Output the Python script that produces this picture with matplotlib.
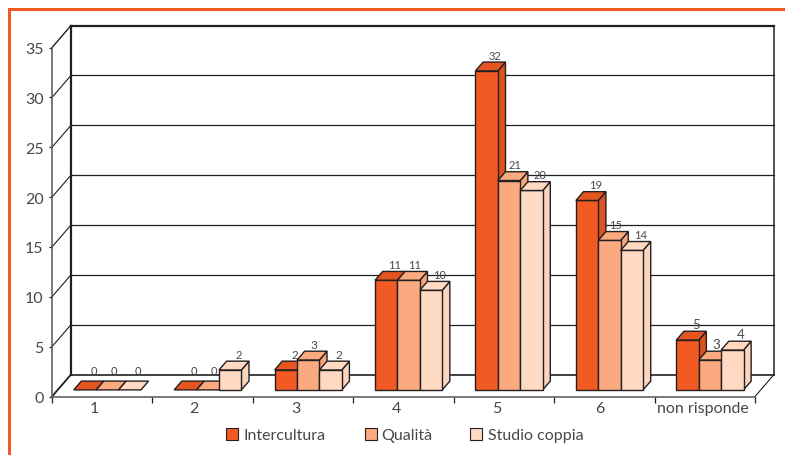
import matplotlib
matplotlib.use('Agg')
import matplotlib.pyplot as plt
from matplotlib.patches import Polygon, Rectangle

plt.rcParams['font.family'] = ['Lato', 'DejaVu Sans']

categories = ['1', '2', '3', '4', '5', '6', 'non risponde']
seriesNames = ['Intercultura', 'Qualità', 'Studio coppia']
intercultura = [0, 0, 2, 11, 32, 19, 5]
qualita = [0, 0, 3, 11, 21, 15, 3]
studioCoppia = [0, 2, 2, 10, 20, 14, 4]
yTicks = [0, 5, 10, 15, 20, 25, 30, 35]

ORANGE = '#F15A22'
colors = [ORANGE, '#FBAA80', '#FFD9C2']
topColors = ['#E5551F', '#FBAA80', '#FFD9C2']
sideColors = ['#E0521D', '#F5A57B', '#FBD5BE']
INK = '#231F20'
TEXT = '#48484A'

# pixel layout of the front plane
WIDTH, HEIGHT = 785, 456
X0, CATW = 52, 100.43
Y0, UNIT = 397.5, 9.97
DEPTHX = 19 / CATW
DEPTHY = 22 / UNIT

BARW = 0.223
BARSTART = 0.16
BARFRONT, BARBACK = 0.30, 0.70


# Oblique projection of a point at a given depth onto the front plane
def project(x, y, depth):
	return (x + depth * DEPTHX, y + depth * DEPTHY)


def draw_box(ax, x, value, face, top, side, zorder):
	edge = dict(edgecolor=INK, linewidth=1.0, joinstyle='miter', zorder=zorder)
	if value > 0:
		ax.add_patch(Polygon([project(x + BARW, 0, BARFRONT), project(x + BARW, 0, BARBACK),
			project(x + BARW, value, BARBACK), project(x + BARW, value, BARFRONT)], facecolor=side, **edge))
		ax.add_patch(Polygon([project(x, 0, BARFRONT), project(x + BARW, 0, BARFRONT),
			project(x + BARW, value, BARFRONT), project(x, value, BARFRONT)], facecolor=face, **edge))
	ax.add_patch(Polygon([project(x, value, BARFRONT), project(x + BARW, value, BARFRONT),
		project(x + BARW, value, BARBACK), project(x, value, BARBACK)], facecolor=top, **edge))


fig = plt.figure(figsize=(WIDTH / 100, HEIGHT / 100), dpi=100)
ax = fig.add_axes([0, 0, 1, 1])
ax.set_xlim(-X0 / CATW, (WIDTH - X0) / CATW)
ax.set_ylim((Y0 - HEIGHT) / UNIT, Y0 / UNIT)

# back wall, side wall and floor
for v in yTicks[1:-1]:
	ax.plot([0, DEPTHX], [v, v + DEPTHY], color=INK, lw=0.8, zorder=1)
	ax.plot([DEPTHX, 7 + DEPTHX], [v + DEPTHY, v + DEPTHY], color=INK, lw=0.9, zorder=1)
ax.plot([0, DEPTHX], [35, 35 + DEPTHY], color=INK, lw=1.0, zorder=1)
ax.plot([DEPTHX, 7 + DEPTHX], [35 + DEPTHY, 35 + DEPTHY], color=INK, lw=1.6, zorder=1)
ax.plot([DEPTHX, DEPTHX], [DEPTHY, 35 + DEPTHY], color=INK, lw=1.6, zorder=1)
ax.plot([7 + DEPTHX, 7 + DEPTHX], [DEPTHY, 35 + DEPTHY], color=INK, lw=1.1, zorder=1)
ax.plot([0, DEPTHX], [0, DEPTHY], color=INK, lw=1.3, zorder=1)
ax.plot([DEPTHX, 7 + DEPTHX], [DEPTHY, DEPTHY], color=INK, lw=1.2, zorder=1)
ax.plot([7, 7 + DEPTHX], [0, DEPTHY], color=INK, lw=0.8, zorder=1)

# bars, left to right so that each one hides the side of the previous
series = [intercultura, qualita, studioCoppia]
labelSizes = [8, 8, 8.5, 8, 8, 8, 9.5]
labelShift = [1, -1.5, 1]
z = 2
for c in range(len(categories)):
	for s, values in enumerate(series):
		x = c + BARSTART + s * BARW
		draw_box(ax, x, values[c], colors[s], topColors[s], sideColors[s], z)
		z += 1
		lx, ly = project(x + BARW / 2, values[c], BARBACK)
		# flat bars carry their label a little higher
		lift = 11 if values[c] == 0 else 7
		ax.text(lx + labelShift[s] / CATW, ly + lift / UNIT, str(values[c]), ha='center', va='center',
			fontsize=labelSizes[c], color=TEXT, zorder=100)

# axes lines and tick labels
for name in ['top', 'right']:
	ax.spines[name].set_visible(False)
ax.spines['left'].set_position(('data', 0))
ax.spines['left'].set_bounds(0, 35)
ax.spines['bottom'].set_position(('data', 0))
ax.spines['bottom'].set_bounds(0, 7)
ax.spines['left'].set_color('#55565A')
ax.spines['bottom'].set_color('#55565A')
ax.spines['left'].set_linewidth(1.1)
ax.spines['bottom'].set_linewidth(1.1)

ax.set_yticks(yTicks)
ax.tick_params(axis='y', length=2, width=0.9, color=INK, pad=4, labelsize=11.5, labelcolor=TEXT)
ax.set_xticks(range(8))
ax.tick_params(axis='x', which='major', length=4.5, width=0.9, color=INK, labelbottom=False)
ax.set_xticks([0.418, 1.414, 2.43, 3.43, 4.43, 5.45, 6.48], minor=True)
ax.set_xticklabels(categories, minor=True)
ax.tick_params(axis='x', which='minor', length=0, pad=3, labelsize=11.5, labelcolor=TEXT)

# legend row
legendBoxes = [226, 365, 470]
legendTexts = [243, 381, 488]
for i, name in enumerate(seriesNames):
	bx = (legendBoxes[i] - X0) / CATW
	tx = (legendTexts[i] - X0) / CATW
	ax.add_patch(Rectangle((bx, (Y0 - 441) / UNIT), 12 / CATW, 12 / UNIT, facecolor=colors[i],
		edgecolor=INK, linewidth=0.8))
	ax.text(tx, (Y0 - 436.5) / UNIT, name, ha='left', va='center', fontsize=11.5, color=TEXT)

# orange frame along the left and top edges
ax.plot([8.5 / WIDTH, 8.5 / WIDTH, 1], [0, 1 - 10 / HEIGHT, 1 - 10 / HEIGHT],
	transform=ax.transAxes, color=ORANGE, lw=2.2, solid_joinstyle='miter', clip_on=False)

fig.savefig('out.png', dpi=100)
